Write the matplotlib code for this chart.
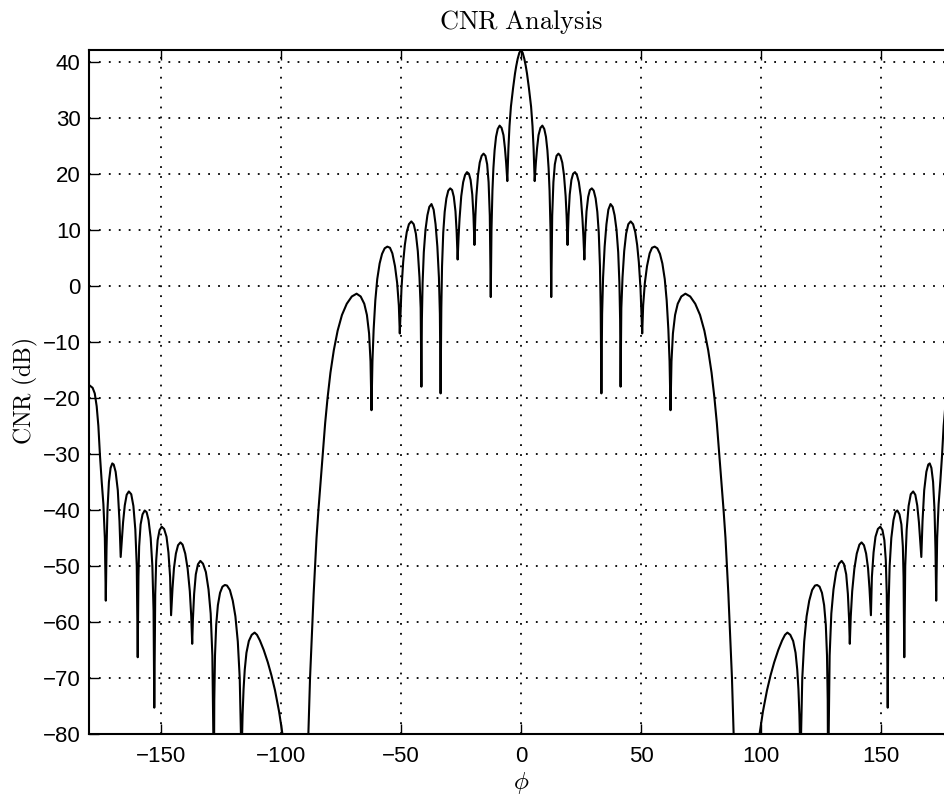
import numpy as np
import matplotlib
matplotlib.use('Agg')
import matplotlib.pyplot as plt

plt.rcParams['font.family'] = ['Liberation Sans', 'DejaVu Sans']
plt.rcParams['mathtext.fontset'] = 'cm'

# positive half of the pattern (the plot is symmetric about 0)
# main lobe
phi_main = [0, 0.7, 1.4, 2.0, 2.5, 3.3, 4.2, 4.8, 5.25, 5.7]
cnr_main = [42.1, 41.6, 40.5, 39.2, 37.9, 35.3, 32.0, 28.5, 24.5, 18.7]

# near sidelobes (nulls -> peak -> null)
phi_near = [6.2, 6.7, 7.3, 8.1, 8.9, 9.7, 10.4, 11.0, 11.5, 11.9, 12.3, 12.6,
            13.0, 13.5, 14.1, 14.8, 15.6, 16.4, 17.2, 17.9, 18.6, 19.0, 19.4,
            19.8, 20.3, 21.0, 21.7, 22.5, 23.3, 24.1, 24.9, 25.6, 26.0, 26.4,
            26.8, 27.3, 28.0, 28.7, 29.5, 30.3, 31.1, 31.8, 32.4, 32.9, 33.2, 33.5,
            33.8, 34.2, 34.85, 35.6, 36.4, 37.3, 38.2, 39.0, 39.8, 40.5, 41.0, 41.3, 41.5,
            41.8, 42.3, 43.0, 43.8, 44.7, 45.7, 46.7, 47.6, 48.4, 49.1, 49.8, 50.5,
            50.9, 51.6, 52.5, 53.6, 54.6, 55.7, 56.8, 57.9, 58.9, 59.9, 60.7, 61.4, 61.9, 62.3]
cnr_near = [22.0, 24.6, 26.9, 28.2, 28.6, 28.0, 26.6, 24.2, 21.0, 17.0, 10.0, -2.0,
            12.5, 18.5, 21.7, 23.2, 23.6, 23.2, 22.0, 19.8, 16.0, 12.5, 7.3,
            12.5, 16.3, 18.9, 20.0, 20.3, 19.8, 18.5, 16.0, 12.0, 8.8, 4.7,
            9.5, 13.3, 15.9, 17.1, 17.4, 17.0, 15.6, 13.2, 9.5, 3.5, -4.0, -19.2,
            -5.0, 1.5, 7.0, 11.0, 13.6, 14.6, 14.1, 12.6, 10.0, 6.0, 0.5, -6.0, -18.0,
            -4.0, 1.5, 6.2, 9.3, 11.0, 11.5, 11.0, 9.6, 7.3, 4.2, -0.5, -8.5,
            -3.5, 0.5, 3.5, 5.8, 6.8, 7.0, 6.7, 5.7, 4.0, 1.2, -2.6, -7.8, -13.5, -22.2]

# last big lobe before the deep null near 90 deg
phi_wide = [62.7, 63.3, 64.2, 65.3, 66.8, 68.5, 70.5, 72.6, 74.6, 76.4, 78.0, 79.4,
            80.6, 81.6, 82.5, 83.5, 84.4, 85.2, 85.8, 86.4, 86.9, 87.9, 88.6, 89.2, 98.8]
cnr_wide = [-13.5, -8.5, -5.2, -3.2, -1.9, -1.4, -1.9, -3.2, -5.2, -8.0, -11.5, -15.5,
            -20.0, -24.5, -29.5, -35.0, -40.0, -45.0, -50.0, -55.0, -60.0, -70.0, -80.0, -95.0, -95.0]

# far sidelobes toward 180 deg
phi_far = [99.4, 100.8, 102.5, 104.0, 105.5, 107.2, 108.8, 110.0, 111.0, 112.2, 113.4,
           114.4, 115.1, 115.6, 116.0, 116.3, 116.5,
           116.7, 117.2, 118.0, 119.0, 120.1, 121.3, 122.5, 123.4, 124.4, 125.4, 126.3,
           127.0, 127.5, 127.8, 128.0,
           128.2, 128.6, 129.3, 130.2, 131.3, 132.5, 133.6, 134.6, 135.5, 136.2, 136.7, 137.0,
           137.4, 138.0, 138.9, 139.9, 141.0, 141.9, 142.9, 143.8, 144.6, 145.2, 145.8,
           146.2, 146.9, 147.7, 148.7, 149.7, 150.6, 151.4, 152.0, 152.4, 152.8,
           153.1, 153.6, 154.3, 155.2, 156.0, 156.8, 157.7, 158.5, 159.1, 159.4, 159.7,
           160.1, 160.7, 161.5, 162.4, 163.4, 164.3, 165.1, 165.8, 166.3, 166.8,
           167.3, 168.0, 168.9, 169.7, 170.3, 171.0, 171.7, 172.3, 172.7, 173.0,
           173.4, 174.0, 174.7, 175.4, 176.1, 176.8, 177.6, 178.5, 180.0]
cnr_far = [-80.0, -76.0, -72.2, -69.5, -67.2, -65.0, -63.3, -62.3, -61.9, -62.3, -63.4,
           -65.5, -68.5, -72.0, -76.5, -82.0, -95.0,
           -80.0, -70.0, -63.5, -59.0, -56.2, -54.3, -53.5, -53.4, -53.7, -54.8, -57.0,
           -60.5, -66.0, -74.0, -95.0,
           -80.0, -66.0, -58.5, -54.2, -51.1, -49.6, -49.1, -49.7, -51.5, -55.0, -59.5, -63.9,
           -59.0, -54.5, -50.5, -47.8, -46.2, -45.8, -46.3, -47.8, -50.4, -54.0, -58.8,
           -52.0, -47.6, -44.8, -43.4, -43.0, -43.6, -45.4, -49.0, -55.0, -75.3,
           -58.0, -50.0, -45.0, -41.8, -40.4, -40.1, -40.8, -42.6, -46.5, -52.0, -66.3,
           -50.0, -43.5, -39.3, -37.2, -36.7, -37.3, -39.2, -42.2, -45.2, -48.4,
           -42.0, -36.5, -33.2, -31.9, -31.7, -32.5, -35.0, -40.0, -47.0, -56.2,
           -45.0, -39.0, -35.0, -30.5, -25.0, -21.5, -19.2, -18.2, -17.7]

phi_pos = np.array(phi_main + phi_near + phi_wide + phi_far)
cnr_pos = np.array(cnr_main + cnr_near + cnr_wide + cnr_far)
phi = np.concatenate([-phi_pos[:0:-1], phi_pos])
cnr = np.concatenate([cnr_pos[:0:-1], cnr_pos])

xticks = [-150, -100, -50, 0, 50, 100, 150]
yticks = list(range(-80, 41, 10))

fig = plt.figure(figsize=(9.45, 7.98), dpi=100)
ax = fig.add_axes([89/945, 64/798, 864/945, 684/798])
ax.plot(phi, cnr, color='k', lw=1.5)
ax.set_xlim(-180, 180)
ax.set_ylim(-80, 42.1)
ax.set_xticks(xticks)
ax.set_yticks(yticks)
ax.grid(True, color='k', ls=(0, (1, 4.5)), lw=1.3)
ax.tick_params(direction='in', length=7, width=1, top=True, right=True,
               labelsize=16, pad=6)
ax.tick_params(axis='x', pad=9)
for s in ax.spines.values():
    s.set_linewidth(1.5)
ax.set_title(r'$\mathrm{CNR\ Analysis}$', fontsize=19, pad=15)
ax.set_ylabel(r'$\mathrm{CNR\ (dB)}$', fontsize=17, labelpad=2)
ax.set_xlabel(r'$\phi$', fontsize=18, labelpad=2)

fig.savefig('out.png', dpi=100)
